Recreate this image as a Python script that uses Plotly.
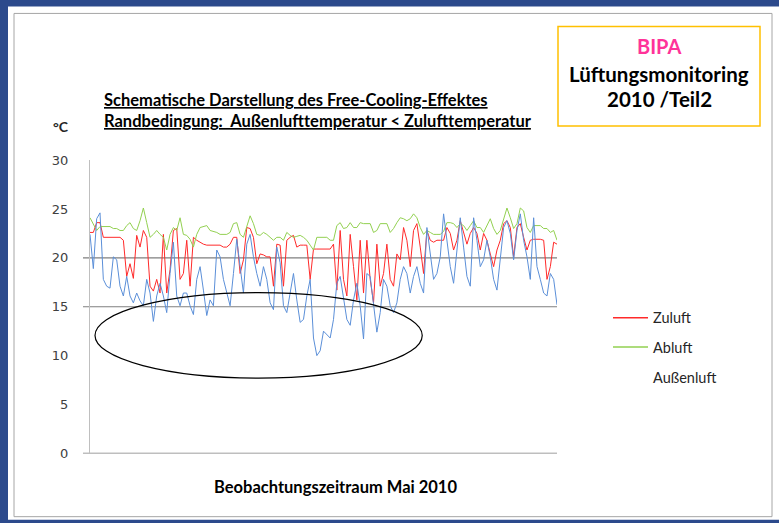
import numpy as np
import plotly.graph_objects as go

zuluft = [22.6,22.6,23.6,23.6,22.1,22.1,22.1,22.1,22.1,22.1,
          21.8,18.1,19.4,17.9,22.3,21.1,22.8,22.1,17.1,16.6,
          17.8,16.4,22.4,16.4,18.8,22.8,23.0,17.8,18.4,21.8,
          17.1,22.1,21.8,21.6,21.4,21.3,21.3,21.3,21.3,21.3,
          21.1,21.1,21.4,22.1,22.1,18.4,19.8,23.1,23.0,22.1,
          19.4,20.4,20.3,20.1,20.1,17.1,21.4,21.3,17.1,21.8,
          22.1,22.3,21.1,21.3,21.3,21.3,17.8,20.9,20.9,20.9,
          20.9,20.9,20.9,21.4,16.7,22.8,17.8,16.1,22.4,19.1,
          15.7,21.8,16.4,21.8,17.8,15.4,21.4,17.1,18.4,21.4,
          17.8,17.1,20.4,19.8,23.1,21.8,19.1,22.8,23.5,21.1,
          18.4,22.8,21.8,21.6,21.8,21.8,21.8,23.1,22.5,20.8,
          21.8,23.8,22.5,21.4,22.5,23.1,22.5,20.8,22.5,21.8,
          20.4,19.1,20.8,21.8,23.5,23.8,23.1,20.1,23.1,23.5,
          22.1,20.8,21.8,21.9,21.9,21.9,21.8,17.8,19.1,21.6,
          21.4]
abluft = [24.1,23.5,22.8,23.2,23.2,23.2,23.2,23.0,23.0,22.8,
          22.8,23.3,23.6,23.0,22.8,23.8,25.1,23.6,22.1,22.4,
          22.8,22.4,22.1,20.8,22.4,23.1,22.8,24.1,22.4,22.3,
          21.9,21.1,22.4,23.1,23.2,23.3,22.8,22.7,22.6,22.4,
          22.4,22.4,22.6,23.5,23.6,22.4,22.1,23.1,24.3,23.5,
          22.4,22.3,22.6,22.4,22.1,21.8,22.1,22.1,21.8,22.6,
          22.3,22.1,22.2,22.3,22.1,21.8,21.3,20.8,22.1,22.1,
          22.1,22.1,21.8,21.8,23.3,23.6,23.0,23.1,23.6,23.1,
          23.1,23.6,23.5,23.5,23.5,22.6,22.8,23.5,23.5,23.5,
          22.6,23.0,23.6,24.1,24.0,23.8,24.0,24.5,24.1,23.1,
          22.4,22.8,22.6,22.4,22.4,22.4,22.7,23.6,23.6,23.5,
          23.1,23.5,23.3,22.8,23.3,23.8,23.1,23.1,22.6,23.3,
          24.0,23.0,22.4,22.8,24.0,25.1,24.1,23.0,23.5,25.1,
          24.8,23.1,22.6,23.3,23.3,23.3,23.0,23.0,22.6,22.8,
          21.8]
aussenluft = [22.4,18.9,24.0,24.6,17.8,17.1,16.9,20.1,19.8,17.1,
              16.1,18.1,16.1,15.4,16.4,15.6,15.1,17.8,16.4,13.5,
              16.1,17.4,16.1,14.4,18.4,21.6,16.1,15.1,16.4,16.4,
              15.1,14.2,17.8,19.1,16.7,14.1,15.7,15.1,20.8,20.1,
              17.8,16.4,15.1,18.4,21.9,19.1,16.4,21.4,22.4,20.1,
              18.4,17.1,19.1,17.8,15.4,14.7,21.1,19.5,15.1,14.4,
              16.4,18.4,15.7,13.4,13.7,16.1,17.8,11.8,10.0,10.5,
              12.5,12.2,11.8,13.7,17.4,18.1,16.1,13.7,13.1,15.7,
              17.4,15.1,11.7,18.4,18.1,15.1,12.4,14.4,17.8,17.1,
              15.1,14.4,15.4,17.8,19.1,18.4,16.4,18.1,19.1,17.4,
              16.4,23.1,20.4,17.8,18.4,20.1,24.5,21.8,19.1,17.4,
              21.1,24.1,21.1,18.1,17.1,24.1,21.8,19.1,19.8,21.8,
              20.1,17.8,16.7,20.1,23.1,23.8,22.5,19.8,22.8,24.5,
              21.8,20.1,17.8,24.1,19.1,17.8,16.4,16.1,18.4,17.8,
              15.2]
y_ticks = [0, 5, 10, 15, 20, 25, 30]
ref_lines = [15, 20]
series_names = ["Zuluft", "Abluft", "Außenluft"]
series_colors = ["#ff2a2a", "#92d050", "#5b8fd8"]

t = np.arange(len(zuluft))

W, H = 779, 523
# the page is photographed with a small vertical offset/scale; compensate
VOFF, VSCALE = 8.6, 0.967
def fx(px):
    return px / W
def fy(px):
    return 1 - ((px - VOFF) / VSCALE) / H

FONT = "Lato"
BG = "#2c4a8c"

fig = go.Figure()
for name, vals, col in zip(series_names, [zuluft, abluft, aussenluft], series_colors):
    fig.add_trace(go.Scatter(x=t, y=vals, mode="lines", name=name,
                             line=dict(color=col, width=1), showlegend=False))

shapes = [
    dict(type="rect", xref="paper", yref="paper", x0=fx(8), x1=1.0, y0=fy(519), y1=fy(8),
         fillcolor="white", line=dict(width=0), layer="below"),
    dict(type="rect", xref="paper", yref="paper", x0=fx(14), x1=fx(772), y0=fy(516), y1=fy(15),
         fillcolor="rgba(0,0,0,0)", line=dict(color="#a6a6a6", width=1), layer="below"),
    dict(type="rect", xref="paper", yref="paper", x0=fx(558), x1=fx(760), y0=fy(127), y1=fy(28),
         fillcolor="white", line=dict(color="#ffc000", width=1.5)),
]
for v in ref_lines + [0]:
    shapes.append(dict(type="line", xref="x domain", yref="y", x0=-0.015, x1=1.0, y0=v, y1=v,
                       line=dict(color="#7f7f7f", width=1.2), layer="below"))
# ellipse marking free-cooling periods
shapes.append(dict(type="circle", xref="x", yref="y", x0=1.5, x1=99.6, y0=7.7, y1=16.44,
                   line=dict(color="black", width=1.2)))
# legend keys
for i, col in enumerate(series_colors[:2]):
    yy = 318 + 29 * i
    shapes.append(dict(type="line", xref="paper", yref="paper", x0=fx(613), x1=fx(648),
                       y0=fy(yy), y1=fy(yy), line=dict(color=col, width=1.5)))

annotations = [
    dict(x=fx(102), y=fy(101), xref="paper", yref="paper", xanchor="left", yanchor="middle",
         text="<b><u>Schematische Darstellung des Free-Cooling-Effektes</u></b>",
         showarrow=False, font=dict(family=FONT, size=16.5, color="black")),
    dict(x=fx(102), y=fy(122), xref="paper", yref="paper", xanchor="left", yanchor="middle",
         text="<b><u>Randbedingung:&nbsp;&nbsp;Außenlufttemperatur &lt; Zulufttemperatur</u></b>",
         showarrow=False, font=dict(family=FONT, size=16.5, color="black")),
    dict(x=fx(61), y=fy(128), xref="paper", yref="paper", xanchor="center", yanchor="middle",
         text="<b>°C</b>", showarrow=False, font=dict(family=FONT, size=14, color="#262626")),
    dict(x=fx(659), y=fy(47), xref="paper", yref="paper", xanchor="center", yanchor="middle",
         text="<b>BIPA</b>", showarrow=False, font=dict(family=FONT, size=20, color="#ff3399")),
    dict(x=fx(659), y=fy(75), xref="paper", yref="paper", xanchor="center", yanchor="middle",
         text="<b>Lüftungsmonitoring</b>", showarrow=False, font=dict(family=FONT, size=20.5, color="black")),
    dict(x=fx(659), y=fy(100), xref="paper", yref="paper", xanchor="center", yanchor="middle",
         text="<b>2010 /Teil2</b>", showarrow=False, font=dict(family=FONT, size=20.5, color="black")),
    dict(x=fx(335), y=fy(486), xref="paper", yref="paper", xanchor="center", yanchor="middle",
         text="<b>Beobachtungszeitraum Mai 2010</b>", showarrow=False,
         font=dict(family=FONT, size=16.5, color="black")),
]
for i, name in enumerate(series_names):
    annotations.append(dict(x=fx(651), y=fy(318 + 29.5 * i), xref="paper", yref="paper",
                            xanchor="left", yanchor="middle", text=name, showarrow=False,
                            font=dict(family=FONT, size=14.5, color="#262626")))

fig.update_layout(
    width=W, height=H, margin=dict(l=0, r=0, t=0, b=0),
    paper_bgcolor=BG, plot_bgcolor="white",
    showlegend=False, shapes=shapes, annotations=annotations,
    xaxis=dict(domain=[fx(90), fx(557)], range=[0, len(zuluft) - 1], showticklabels=False,
               showgrid=False, zeroline=False, showline=False, ticks=""),
    yaxis=dict(domain=[fy(453), fy(161)], range=[0, 30], tickvals=y_ticks, showgrid=False,
               zeroline=False, showline=True, linecolor="#bfbfbf", linewidth=1, ticks="",
               ticklabelstandoff=18, tickfont=dict(family="DejaVu Sans", size=13, color="#404040")),
)

fig.write_html("out.html", config={"displayModeBar": False},
               post_script="document.body.style.margin='0px';"
                           "document.body.style.overflow='hidden';"
                           "document.body.style.background='" + BG + "';")
